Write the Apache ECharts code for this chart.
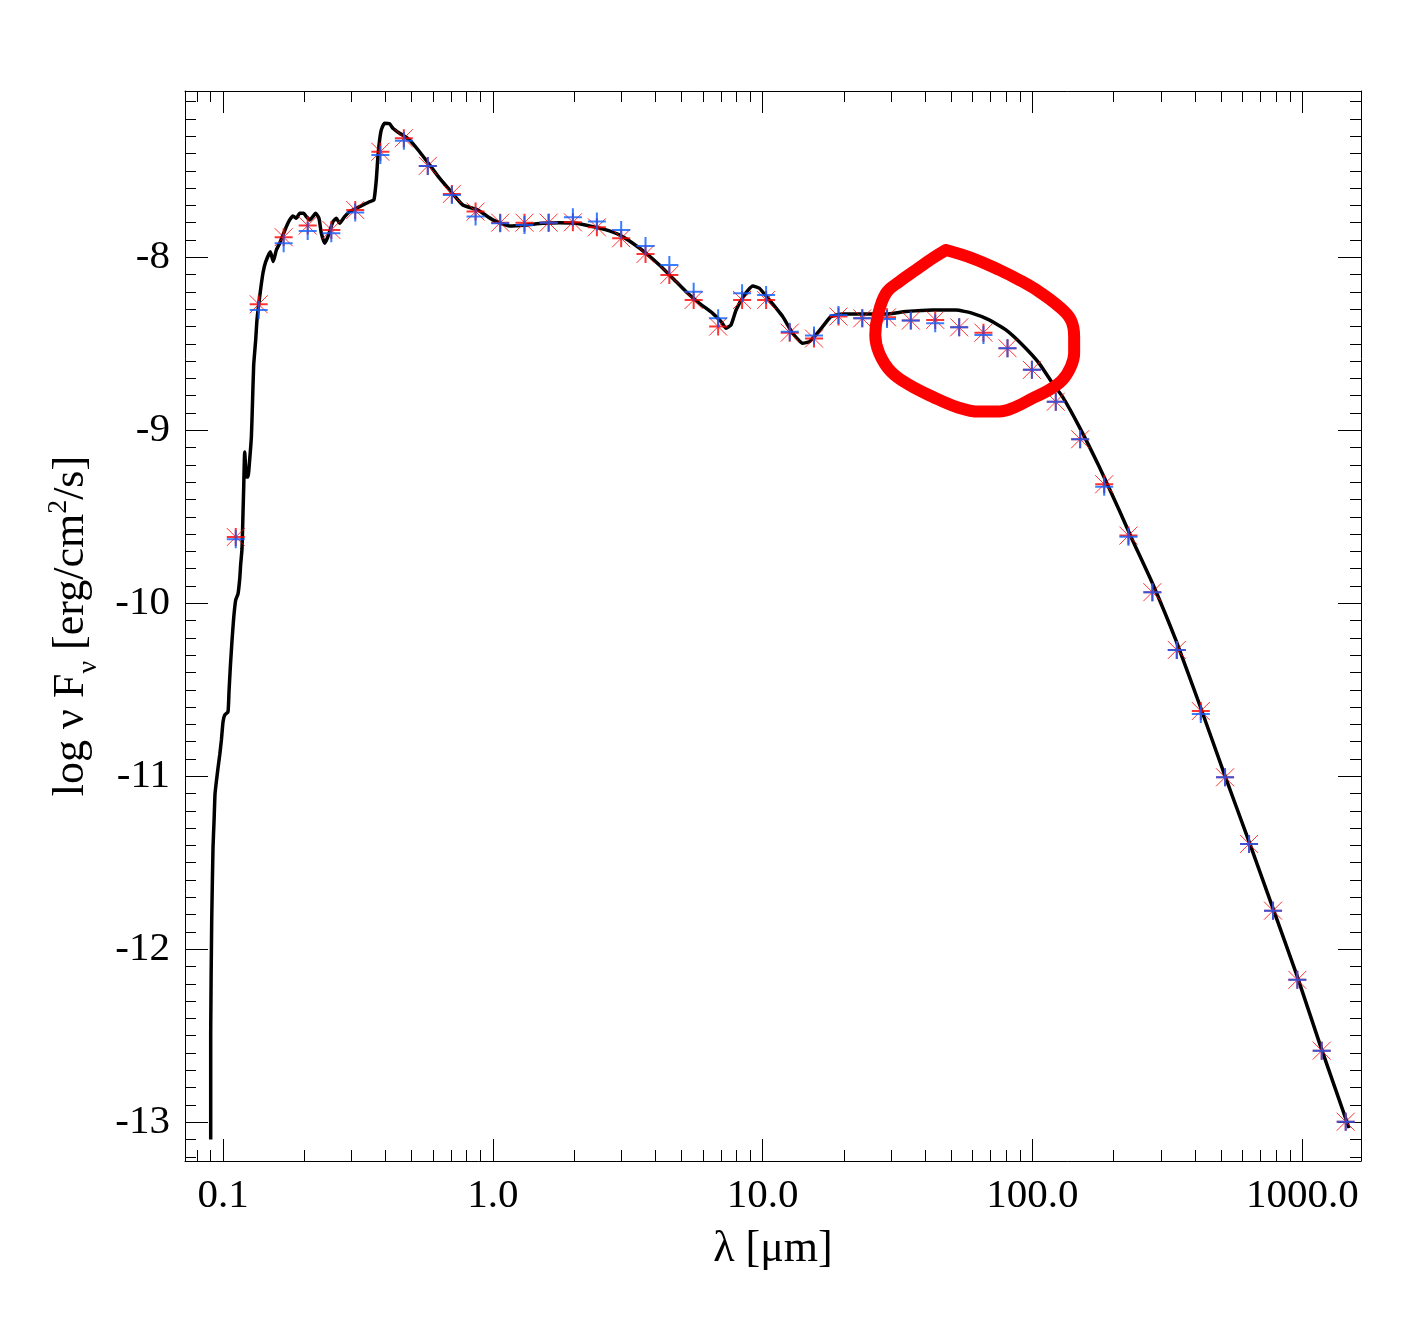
<!DOCTYPE html>
<html><head><meta charset="utf-8">
<script src="https://cdn.jsdelivr.net/npm/echarts@6/dist/echarts.min.js"></script>
<style>html,body{margin:0;padding:0;background:#fff}#c{width:1417px;height:1337px}</style>
</head><body><div id="c"></div><script>
// ---- tick labels ----
const xTickValues = [0.1, 1, 10, 100, 1000];
const xTickLabels = ['0.1', '1.0', '10.0', '100.0', '1000.0'];
const yTickValues = [-8, -9, -10, -11, -12, -13];
const yTickLabels = ['-8', '-9', '-10', '-11', '-12', '-13'];

// ---- photometry (wavelength in micron, log nuFnu) ----
const obsLambda = [0.1115,0.1356,0.1678,0.206,0.252,0.309,0.383,0.468,0.574,0.705,0.863,1.065,1.31,1.61,1.98,2.43,2.99,3.68,4.51,5.55,6.84,8.39,10.3,12.6,15.5,19.1,23.4,28.9,35.4,43.6,53.5,65.8,80.8,99.5,122,150.2,184.4,226.8,278.2,342.6,420.5,517.2,634.8,778.9,958.3,1180,1448];
const obsRed = [-9.617,-8.272,-7.884,-7.817,-7.842,-7.727,-7.390,-7.312,-7.472,-7.634,-7.736,-7.800,-7.800,-7.800,-7.798,-7.827,-7.890,-7.981,-8.102,-8.247,-8.401,-8.247,-8.247,-8.436,-8.470,-8.343,-8.353,-8.347,-8.366,-8.362,-8.405,-8.436,-8.526,-8.651,-8.835,-9.052,-9.312,-9.609,-9.936,-10.270,-10.623,-11.006,-11.391,-11.777,-12.177,-12.586,-12.997];
const obsBlue = [-9.630,-8.305,-7.919,-7.848,-7.861,-7.742,-7.409,-7.326,-7.472,-7.640,-7.764,-7.803,-7.813,-7.800,-7.769,-7.794,-7.842,-7.935,-8.045,-8.199,-8.353,-8.208,-8.218,-8.430,-8.452,-8.334,-8.353,-8.357,-8.366,-8.382,-8.405,-8.449,-8.526,-8.651,-8.835,-9.052,-9.326,-9.615,-9.936,-10.270,-10.640,-11.006,-11.391,-11.777,-12.177,-12.586,-12.997];

// ---- model SED (log10 wavelength, log nuFnu) ----
const modelLogLambda = [-1.0456,-1.0456,-1.0419,-1.037,-1.0333,-1.0296,-1.0244,-1.0185,-1.0122,-1.0059,-1.0,-0.9937,-0.9815,-0.9778,-0.9726,-0.9667,-0.9604,-0.953,-0.9444,-0.9381,-0.9344,-0.9296,-0.9259,-0.9233,-0.9196,-0.9133,-0.9074,-0.9011,-0.8948,-0.8911,-0.8863,-0.8789,-0.8741,-0.8641,-0.8519,-0.8419,-0.8244,-0.8141,-0.8022,-0.79,-0.7652,-0.753,-0.7407,-0.7281,-0.7159,-0.7011,-0.6911,-0.6789,-0.6689,-0.6567,-0.6444,-0.6356,-0.6233,-0.6111,-0.5926,-0.58,-0.5678,-0.5493,-0.5307,-0.5059,-0.4815,-0.4567,-0.4407,-0.4319,-0.4259,-0.4196,-0.4133,-0.4011,-0.3826,-0.3704,-0.3456,-0.3085,-0.2715,-0.2344,-0.1974,-0.1604,-0.1111,-0.0556,0.0,0.0619,0.1237,0.1852,0.247,0.3089,0.3704,0.42,0.4693,0.5185,0.5681,0.6174,0.6667,0.7163,0.7656,0.8148,0.8459,0.8644,0.883,0.9015,0.9322,0.963,0.9878,1.0248,1.0741,1.1111,1.1481,1.173,1.1915,1.2222,1.2533,1.2963,1.383,1.457,1.5311,1.6296,1.7163,1.7778,1.8396,1.9015,1.963,2.0248,2.0741,2.1111,2.173,2.247,2.3211,2.3704,2.4444,2.5311,2.6174,2.71,2.8026,2.8889,2.9815,3.0681,3.173];
const modelLogF = [-13.100,-12.472,-11.836,-11.409,-11.264,-11.102,-11.027,-10.952,-10.877,-10.790,-10.686,-10.646,-10.628,-10.513,-10.362,-10.218,-10.085,-9.981,-9.946,-9.860,-9.773,-9.686,-9.478,-9.331,-9.125,-9.270,-9.270,-9.169,-9.036,-8.860,-8.623,-8.478,-8.362,-8.228,-8.091,-8.027,-7.968,-8.025,-7.958,-7.919,-7.823,-7.784,-7.761,-7.775,-7.746,-7.746,-7.765,-7.784,-7.769,-7.746,-7.775,-7.861,-7.919,-7.881,-7.794,-7.775,-7.803,-7.765,-7.736,-7.717,-7.698,-7.679,-7.669,-7.553,-7.418,-7.322,-7.264,-7.225,-7.229,-7.254,-7.283,-7.322,-7.390,-7.466,-7.543,-7.611,-7.698,-7.727,-7.784,-7.819,-7.813,-7.803,-7.800,-7.803,-7.823,-7.842,-7.871,-7.919,-7.977,-8.045,-8.121,-8.199,-8.266,-8.324,-8.372,-8.410,-8.391,-8.305,-8.218,-8.166,-8.179,-8.247,-8.343,-8.439,-8.497,-8.488,-8.459,-8.401,-8.343,-8.328,-8.328,-8.328,-8.314,-8.305,-8.305,-8.324,-8.362,-8.420,-8.507,-8.613,-8.728,-8.806,-8.979,-9.210,-9.461,-9.634,-9.884,-10.212,-10.578,-10.983,-11.378,-11.754,-12.158,-12.563,-13.033];

// ---- hand-drawn annotation loop (log10 wavelength, log nuFnu) ----
const circleLogLambda = [1.6793,1.7778,1.8767,1.9507,2.0248,2.0989,2.1422,2.1544,2.1544,2.1422,2.1111,2.0619,2.0,1.9385,1.8767,1.8026,1.7163,1.6296,1.5433,1.4756,1.4322,1.4174,1.4259,1.457,1.5063,1.5681,1.6296,1.6793];
const circleLogF = [-7.958,-8.006,-8.073,-8.131,-8.199,-8.286,-8.362,-8.459,-8.555,-8.632,-8.709,-8.767,-8.815,-8.864,-8.892,-8.892,-8.864,-8.806,-8.738,-8.661,-8.555,-8.449,-8.343,-8.208,-8.141,-8.073,-8.006,-7.958];

const FONT = "'Liberation Serif','Times New Roman',serif";
const X_MIN = 0.0723, X_MAX = 1650, Y_MIN = -13.224, Y_MAX = -7.039;

const modelData = modelLogLambda.map((l, i) => [Math.pow(10, l), modelLogF[i]]);
const redData = obsLambda.map((l, i) => [l, obsRed[i]]);
const blueData = obsLambda.map((l, i) => [l, obsBlue[i]]);
const circleData = circleLogLambda.map((l, i) => [Math.pow(10, l), circleLogF[i]]);

function xFmt(v) {
  const i = xTickValues.findIndex(t => Math.abs(t - v) / t < 1e-6);
  return i >= 0 ? xTickLabels[i] : '';
}
function yFmt(v) {
  const i = yTickValues.findIndex(t => Math.abs(t - v) < 1e-6);
  return i >= 0 ? yTickLabels[i] : '';
}

const axisCommonX = {
  type: 'log', logBase: 10, min: X_MIN, max: X_MAX,
  axisLine: { show: true, onZero: false, lineStyle: { color: '#000', width: 1 } },
  axisTick: { show: true, inside: true, length: 22, lineStyle: { color: '#000', width: 1 } },
  minorTick: { show: true, splitNumber: 9, length: 11, lineStyle: { color: '#000', width: 1 } },
  splitLine: { show: false }, minorSplitLine: { show: false }
};
const axisCommonY = {
  type: 'value', min: Y_MIN, max: Y_MAX, scale: true,
  axisLine: { show: true, onZero: false, lineStyle: { color: '#000', width: 1 } },
  axisTick: { show: true, inside: true, length: 23, lineStyle: { color: '#000', width: 1 } },
  minorTick: { show: true, splitNumber: 10, length: 11, lineStyle: { color: '#000', width: 1 } },
  splitLine: { show: false }, minorSplitLine: { show: false }
};

const plusPath = 'path://M0,10L20,10M10,0L10,20';
const crossPath = 'path://M0,0L20,20M20,0L0,20';

const chart = echarts.init(document.getElementById('c'), null, { renderer: 'canvas' });
chart.setOption({
  animation: false,
  backgroundColor: '#fff',
  grid: { left: 185, right: 56, top: 91, bottom: 176, containLabel: false, outerBoundsMode: 'none' },
  xAxis: [
    Object.assign({}, axisCommonX, {
      position: 'bottom',
      axisLabel: { show: true, formatter: xFmt, margin: 15, fontFamily: FONT, fontSize: 41, color: '#000', showMinLabel: false, showMaxLabel: false },
      name: 'λ [μm]', nameLocation: 'middle', nameGap: 66,
      nameTextStyle: { fontFamily: FONT, fontSize: 44, color: '#000' }
    }),
    Object.assign({}, axisCommonX, { position: 'top', axisLabel: { show: false } })
  ],
  yAxis: [
    Object.assign({}, axisCommonY, {
      position: 'left',
      axisLabel: { show: true, formatter: yFmt, margin: 15, fontFamily: FONT, fontSize: 41, color: '#000', showMinLabel: false, showMaxLabel: false },
      name: '{b|log ν F}{sub|ν}{b| [erg/cm}{sup|2}{b|/s]}', nameLocation: 'middle', nameGap: 82, nameRotate: 90,
      nameTextStyle: {
        fontFamily: FONT, fontSize: 44, color: '#000',
        rich: {
          b: { fontFamily: FONT, fontSize: 44, color: '#000', lineHeight: 64 },
          sub: { fontFamily: FONT, fontSize: 28, color: '#000', lineHeight: 28, padding: [36, 0, 0, 0] },
          sup: { fontFamily: FONT, fontSize: 28, color: '#000', lineHeight: 28, padding: [0, 0, 24, 0] }
        }
      }
    }),
    Object.assign({}, axisCommonY, { position: 'right', axisLabel: { show: false } })
  ],
  series: [
    {
      name: 'model', type: 'line', data: modelData, showSymbol: false, smooth: 0.15,
      lineStyle: { color: '#000', width: 3.5 }, z: 2, silent: true
    },
    {
      name: 'red-x', type: 'scatter', data: redData, symbol: crossPath, symbolSize: 18,
      itemStyle: { color: 'rgba(0,0,0,0)', borderColor: '#ff0000', borderWidth: 1 }, z: 3
    },
    {
      name: 'red-plus', type: 'scatter', data: redData, symbol: plusPath, symbolSize: 18,
      itemStyle: { color: 'rgba(0,0,0,0)', borderColor: '#ff0000', borderWidth: 2 }, z: 3
    },
    {
      name: 'blue-plus', type: 'scatter', data: blueData, symbol: plusPath, symbolSize: 18,
      itemStyle: { color: 'rgba(0,0,0,0)', borderColor: '#0a5cff', borderWidth: 2 }, z: 4
    },
    {
      name: 'annotation', type: 'line', data: circleData, showSymbol: false, smooth: 0.4,
      lineStyle: { color: '#ff0000', width: 12, cap: 'round', join: 'round' }, z: 5, silent: true
    }
  ]
});
</script></body></html>
